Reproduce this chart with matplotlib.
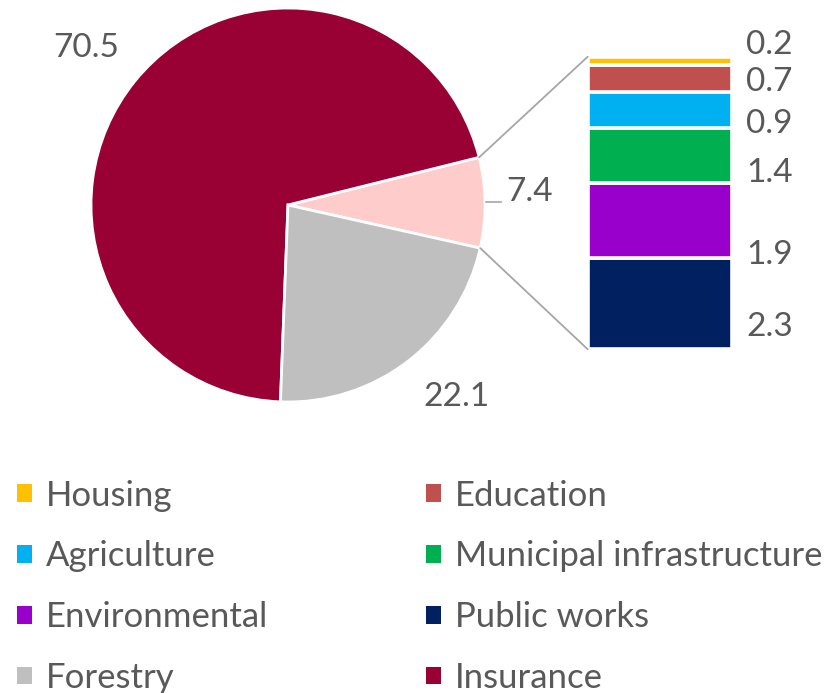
import matplotlib
matplotlib.use("Agg")
import matplotlib.pyplot as plt
from matplotlib.patches import Patch, ConnectionPatch
import numpy as np

# ---- data ----
pie_labels = ["Other", "Insurance", "Forestry"]
pie_values = [7.4, 70.5, 22.1]
pie_colors = ["#FFCCCC", "#990033", "#BFBFBF"]

bar_labels = ["Public works", "Environmental", "Municipal infrastructure",
              "Agriculture", "Education", "Housing"]
bar_values = [2.3, 1.9, 1.4, 0.9, 0.7, 0.2]
bar_colors = ["#002060", "#9900CC", "#00B050", "#00B0F0", "#C0504D", "#FFC000"]

legend_order = ["Housing", "Agriculture", "Environmental", "Forestry",
                "Education", "Municipal infrastructure", "Public works", "Insurance"]

TXT = "#595959"
FONT = "Lato"
plt.rcParams["font.family"] = [FONT, "DejaVu Sans"]
NUM_FS = 24
LEG_FS = 25

W, H = 834, 693
fig = plt.figure(figsize=(W / 100, H / 100), dpi=100)

def fbox(x0, y0, x1, y1):
    # pixel box (top-down) -> figure fraction rect
    return [x0 / W, (H - y1) / H, (x1 - x0) / W, (y1 - y0) / H]

# ---- pie ----
cx, cy, R = 288, 205, 197
axp = fig.add_axes(fbox(cx - R, cy - R, cx + R, cy + R))
wedges, _ = axp.pie(pie_values, colors=pie_colors, startangle=-12.64,
                    counterclock=True, radius=1,
                    wedgeprops=dict(edgecolor="white", linewidth=2))
axp.set_xlim(-1, 1)
axp.set_ylim(-1, 1)
axp.set_aspect("equal")
axp.axis("off")

# pie value labels
lab_r = [1.23, 1.298, 1.296]
lab_dang = [2.4, 1.1, 3.6]
for w, v, r, da in zip(wedges, pie_values, lab_r, lab_dang):
    ang = np.deg2rad((w.theta1 + w.theta2) / 2 + da)
    axp.text(r * np.cos(ang), r * np.sin(ang), f"{v:.1f}", ha="center",
             va="center", fontsize=NUM_FS, color=TXT)
# small leader line for the small slice
mid = np.deg2rad((wedges[0].theta1 + wedges[0].theta2) / 2)
axp.plot([1.003, 1.079], [np.sin(mid) + 0.002, np.sin(mid) + 0.002],
         color="#A6A6A6", lw=1.2, clip_on=False)

# ---- stacked bar ----
axb = fig.add_axes(fbox(587.7, 56.7, 732, 349.3))
bottom = 0
centers = []
for v, c in zip(bar_values, bar_colors):
    axb.bar(0, v, bottom=bottom, width=1, color=c, edgecolor="white", linewidth=2.6)
    centers.append(bottom + v / 2)
    bottom += v
total = bottom
axb.set_xlim(-0.5, 0.5)
axb.set_ylim(0, total)
axb.axis("off")

nudge = [-0.58, -0.87, -0.43, -0.35, -0.08, 0.39]
for v, yc, dy in zip(bar_values, centers, nudge):
    axb.text(1.097, yc + dy, f"{v:.1f}", transform=axb.get_yaxis_transform(),
             ha="left", va="center", fontsize=NUM_FS, color=TXT, clip_on=False)

# ---- connector lines ----
t_top = np.deg2rad(wedges[0].theta2)
t_bot = np.deg2rad(wedges[0].theta1)
for t, yb in [(t_top, total), (t_bot, 0)]:
    con = ConnectionPatch(xyA=(np.cos(t), np.sin(t)), coordsA=axp.transData,
                          xyB=(-0.5, yb), coordsB=axb.transData,
                          color="#A6A6A6", lw=1.3)
    fig.add_artist(con)

# ---- legend ----
color_map = dict(zip(bar_labels, bar_colors))
color_map["Forestry"] = "#BFBFBF"
color_map["Insurance"] = "#990033"
handles = [Patch(facecolor=color_map[n], edgecolor="none", label=n) for n in legend_order]
fs_px = LEG_FS * 100 / 72
leg = fig.legend(handles=handles, ncol=2, loc="upper left",
                 bbox_to_anchor=(17 / W, 1 - 479.5 / H), frameon=False,
                 fontsize=LEG_FS, labelcolor=TXT, handlelength=15 / fs_px,
                 handleheight=14 / fs_px, handletextpad=14 / fs_px,
                 columnspacing=158 / fs_px, labelspacing=0.83, borderpad=0,
                 borderaxespad=0)

fig.savefig("out.png", dpi=100)
